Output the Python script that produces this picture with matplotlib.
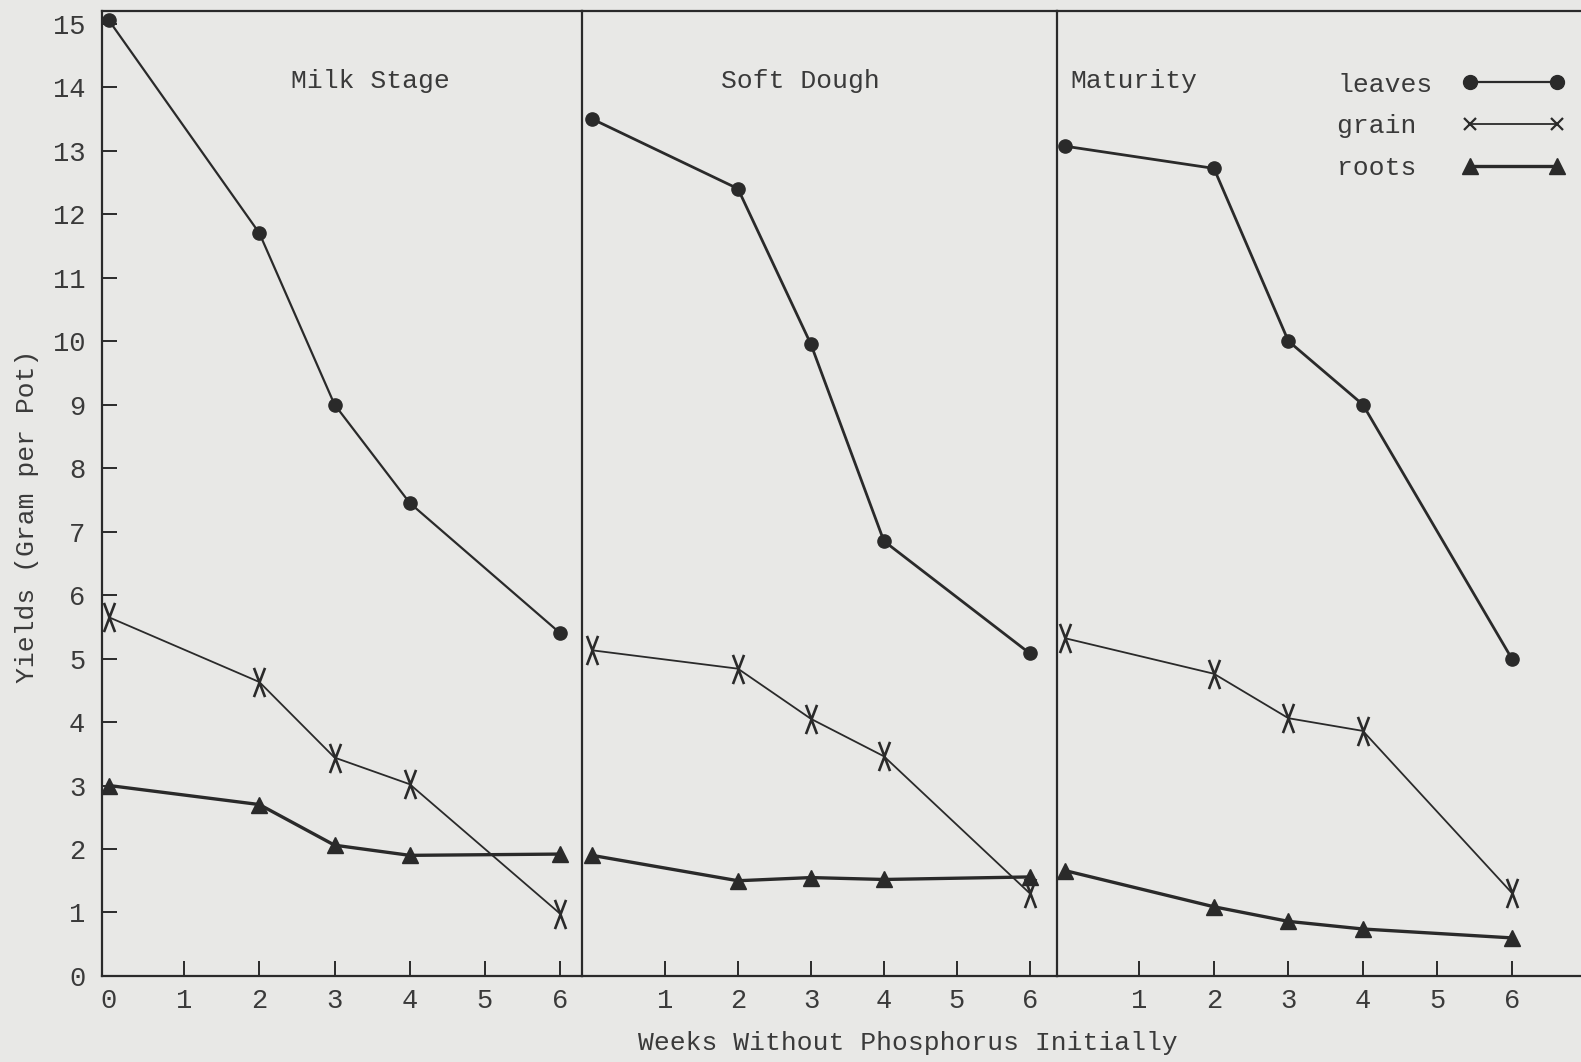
import matplotlib
matplotlib.use('Agg')
import matplotlib.pyplot as plt
from matplotlib.path import Path
from matplotlib.lines import Line2D

# values (grams per pot)
stages = ['Milk Stage', 'Soft Dough', 'Maturity']
weeks = [0, 2, 3, 4, 6]

leaves_milk = [15.05, 11.7, 9.0, 7.45, 5.4]
leaves_dough = [13.5, 12.4, 9.95, 6.85, 5.08]
leaves_mature = [13.07, 12.72, 10.0, 9.0, 5.0]

grain_milk = [5.65, 4.63, 3.44, 3.02, 0.98]
grain_dough = [5.13, 4.84, 4.05, 3.46, 1.3]
grain_mature = [5.32, 4.76, 4.06, 3.86, 1.31]

roots_milk = [3.0, 2.7, 2.06, 1.9, 1.92]
roots_dough = [1.9, 1.5, 1.55, 1.52, 1.56]
roots_mature = [1.66, 1.09, 0.86, 0.74, 0.6]

leaves = [leaves_milk, leaves_dough, leaves_mature]
grain = [grain_milk, grain_dough, grain_mature]
roots = [roots_milk, roots_dough, roots_mature]

series_names = ['leaves', 'grain', 'roots']
ytick_vals = list(range(0, 16))

plt.rcParams['font.family'] = ['Liberation Mono', 'DejaVu Sans Mono']

paper = '#e8e8e6'
ink = '#2a2a2a'
txt = '#3a3a3a'

# tall typewriter "X" used for the grain points
tall_x = Path([(-0.38, -1), (0.38, 1), (-0.38, 1), (0.38, -1)],
              [Path.MOVETO, Path.LINETO, Path.MOVETO, Path.LINETO])

fig = plt.figure(figsize=(15.81, 10.62), dpi=100, facecolor=paper)

# panel boxes in figure fractions (left, width) and x limits
boxes = [(0.0645, 0.3036), (0.3681, 0.3004), (0.6686, 0.3314)]
xlims = [(-0.093, 6.29), (-0.137, 6.37), (-0.107, 6.93)]
bottom, height = 0.081, 0.9087

axes = []
for k in range(3):
    ax = fig.add_axes([boxes[k][0], bottom, boxes[k][1], height])
    ax.set_facecolor('none')
    ax.set_xlim(*xlims[k])
    ax.set_ylim(0, 15.2)
    for s in ['left', 'top', 'bottom']:
        ax.spines[s].set_color(ink)
        ax.spines[s].set_linewidth(1.6)
    ax.spines['right'].set_visible(False)

    ax.plot(weeks, leaves[k], color=ink, lw=1.6 if k == 0 else 2.0,
            marker='o', ms=9.5, mfc=ink, mec=ink, zorder=3)
    ax.plot(weeks, grain[k], color=ink, lw=1.3, marker=tall_x, ms=21,
            mew=1.9, mec=ink, zorder=3)
    ax.plot(weeks, roots[k], color=ink, lw=2.4, marker='^', ms=12,
            mfc=ink, mec=ink, zorder=3)

    if k == 0:
        ax.set_xticks(range(0, 7))
        ax.set_yticks(ytick_vals)
        ax.tick_params(axis='y', direction='in', length=11, width=1.4,
                       color=ink, labelsize=19.5, labelcolor=txt, pad=12)
    else:
        ax.set_xticks(range(1, 7))
        ax.tick_params(axis='y', left=False, labelleft=False)
    ax.tick_params(axis='x', direction='in', length=11, width=1.4,
                   color=ink, labelsize=19.5, labelcolor=txt, pad=9)
    axes.append(ax)

# no tick mark at week 0 of the first panel, only the label
axes[0].xaxis.get_major_ticks()[0].tick1line.set_visible(False)
axes[0].yaxis.get_major_ticks()[0].tick1line.set_visible(False)

# stage titles
title_pos = [(3.48, 14.1), (2.86, 14.1), (0.93, 14.1)]
for ax, name, (tx, ty) in zip(axes, stages, title_pos):
    ax.text(tx, ty, name, ha='center', va='center', fontsize=19, color=txt)

fig.text(0.017, 0.514, 'Yields (Gram per Pot)', rotation=90,
         ha='center', va='center', fontsize=19, color=txt)
fig.text(0.574, 0.018, 'Weeks Without Phosphorus Initially',
         ha='center', va='center', fontsize=19, color=txt)

handles = [
    Line2D([], [], color=ink, lw=1.6, marker='o', ms=10, mfc=ink, mec=ink),
    Line2D([], [], color=ink, lw=1.3, marker='x', ms=9, mew=1.6, mec=ink),
    Line2D([], [], color=ink, lw=2.4, marker='^', ms=12, mfc=ink, mec=ink),
]
# pad the labels to equal width so the monospace text lines up on the left
width = max(len(n) for n in series_names)
labels = [n.ljust(width) for n in series_names]
leg = axes[2].legend(handles, labels, numpoints=2,
                     markerfirst=False, frameon=False, loc='upper right',
                     bbox_to_anchor=(0.998, 0.944), bbox_transform=fig.transFigure,
                     fontsize=19, handlelength=3.9, handletextpad=1.1,
                     labelspacing=0.67, borderpad=0)
for t in leg.get_texts():
    t.set_color(txt)

fig.savefig('out.png', dpi=100, facecolor=paper)
